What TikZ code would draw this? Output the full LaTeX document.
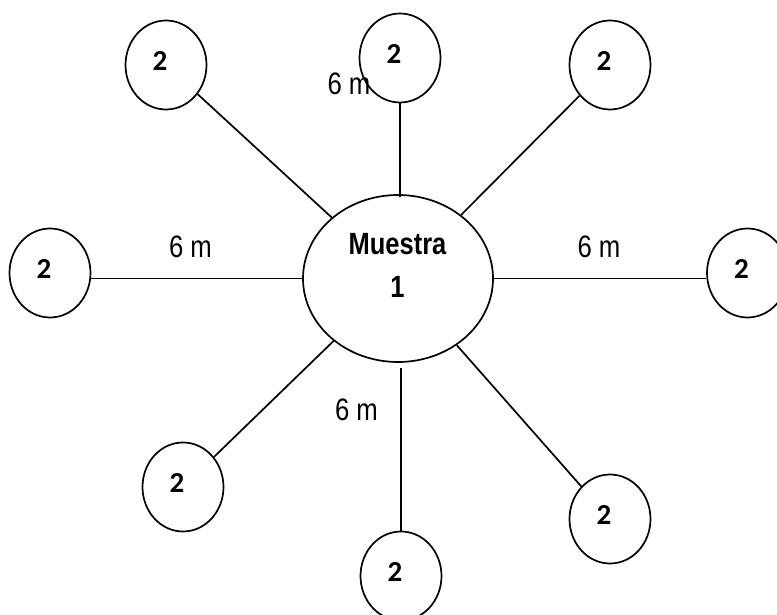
\documentclass[tikz,border=0pt]{standalone}
\usepackage{fontspec}
\usetikzlibrary{shapes.geometric}
\newfontfamily\narrowsans[FakeStretch=0.83]{Liberation Sans}
\newfontfamily\numfont{Carlito}

\tikzset{
  num/.style={font=\numfont\bfseries\fontsize{29}{32}\selectfont, inner sep=0pt},
  spot/.style={ellipse, draw, line width=1.7pt, minimum width=81pt, minimum height=89pt,
    inner sep=0pt, label={[num, xshift=-6pt, yshift=4pt]center:#1}},
  center ring/.style={ellipse, draw, line width=1.7pt, minimum width=190pt,
    minimum height=167pt, inner sep=0pt},
  title/.style={font=\narrowsans\bfseries\fontsize{30.7}{43}\selectfont, align=center, inner sep=0pt},
  dist/.style={font=\narrowsans\fontsize{31}{34}\selectfont, inner sep=0pt},
  spoke/.style={line width=1.7pt}
}

\begin{document}
\begin{tikzpicture}[x=1pt, y=-1pt]
  \useasboundingbox (0,0) rectangle (777,615);

  % central sample
  \node[center ring] (m) at (398,278.5) {};
  \node[title] (mt) at (397.5,265.5) {Muestra\\1};

  % surrounding sampling points
  \node[spot=2] (tl) at (166,65) {};
  \node[spot=2] (t)  at (400,58) {};
  \node[spot=2] (tr) at (610,65) {};
  \node[spot=2] (l)  at (50,273) {};
  \node[spot=2] (r)  at (747.5,273) {};
  \node[spot=2] (bl) at (183,487) {};
  \node[spot=2] (b)  at (401,576) {};
  \node[spot=2] (br) at (610,519) {};

  % spokes
  \draw[spoke] (tl) -- (m);
  \draw[spoke, shorten >=-3pt] (t) -- (t |- m.north);
  \draw[spoke] (tr) -- (m);
  \draw[spoke] (m.west) -- (m.west -| l.east);
  \draw[spoke] (m.east) -- (m.east -| r.west);
  \draw[spoke] (bl) -- (m);
  \draw[spoke, shorten <=5pt] (b |- m.south) -- (b);
  \draw[spoke] (br) -- (m);

  % distance labels
  \node[dist] (d1) at (349,84) {6 m};
  \node[dist] (d2) at (190.5,247) {6 m};
  \node[dist] (d3) at (599,247) {6 m};
  \node[dist] (d4) at (356.5,410) {6 m};
\end{tikzpicture}
\end{document}
